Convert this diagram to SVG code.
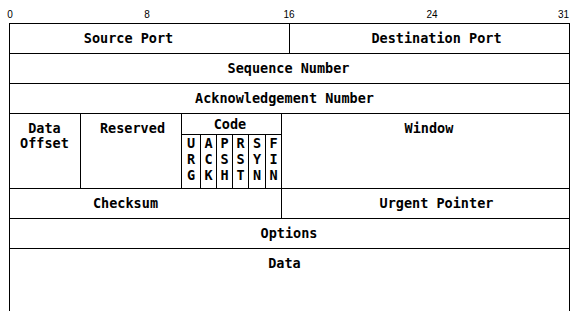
<svg xmlns="http://www.w3.org/2000/svg" width="581" height="315" viewBox="0 0 581 315">
<style>
.l{stroke:#000;stroke-width:1;fill:none;shape-rendering:crispEdges}
.t{font-family:"DejaVu Sans Mono","Liberation Mono",monospace;font-weight:bold;font-size:13.5px;fill:#000;text-anchor:middle}
.s{font-family:"Liberation Sans","DejaVu Sans",sans-serif;font-size:10px;fill:#000;text-anchor:middle}
</style>
<rect width="581" height="315" fill="#fff"/>
<g id="grid" class="l">
<path d="M9.5 311V23.5H569.5V311"/>
<path d="M9.5 53.5H569.5M9.5 83.5H569.5M9.5 113.5H569.5M9.5 188.5H569.5M9.5 218.5H569.5M9.5 248.5H569.5"/>
<path d="M289.5 23.5V53.5M80.5 113.5V188.5M181.5 113.5V188.5M281.5 113.5V218.5M181.5 134.5H281.5"/>
<path d="M200.5 134.5V188.5M216.5 134.5V188.5M232.5 134.5V188.5M248.5 134.5V188.5M265.5 134.5V188.5"/>
</g>
<g id="scale" class="s">
<text x="10" y="18">0</text>
<text x="147" y="18">8</text>
<text x="289" y="18">16</text>
<text x="432" y="18">24</text>
<text x="569" y="18" text-anchor="end">31</text>
</g>
<g id="source-port"><text class="t" x="128.5" y="43">Source Port</text></g>
<g id="destination-port"><text class="t" x="436.5" y="43">Destination Port</text></g>
<g id="sequence-number"><text class="t" x="288.5" y="73">Sequence Number</text></g>
<g id="ack-number"><text class="t" x="284.5" y="103">Acknowledgement Number</text></g>
<g id="data-offset"><text class="t" x="44.5" y="133">Data</text><text class="t" x="44.5" y="148">Offset</text></g>
<g id="reserved"><text class="t" x="132.5" y="133">Reserved</text></g>
<g id="code"><text class="t" x="230" y="129">Code</text></g>
<g id="flags" class="t">
<text x="191" y="148">U</text><text x="191" y="164">R</text><text x="191" y="180">G</text>
<text x="208.5" y="148">A</text><text x="208.5" y="164">C</text><text x="208.5" y="180">K</text>
<text x="224.5" y="148">P</text><text x="224.5" y="164">S</text><text x="224.5" y="180">H</text>
<text x="240.5" y="148">R</text><text x="240.5" y="164">S</text><text x="240.5" y="180">T</text>
<text x="257" y="148">S</text><text x="257" y="164">Y</text><text x="257" y="180">N</text>
<text x="273.5" y="148">F</text><text x="273.5" y="164">I</text><text x="273.5" y="180">N</text>
</g>
<g id="window"><text class="t" x="429" y="133">Window</text></g>
<g id="checksum"><text class="t" x="125.5" y="208">Checksum</text></g>
<g id="urgent-pointer"><text class="t" x="436.5" y="208">Urgent Pointer</text></g>
<g id="options"><text class="t" x="289" y="238">Options</text></g>
<g id="data"><text class="t" x="284.5" y="268">Data</text></g>
</svg>
